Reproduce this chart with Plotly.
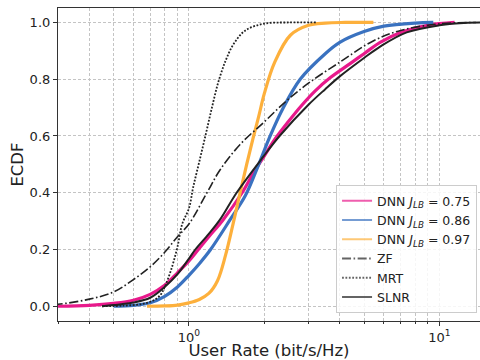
import numpy as np
import plotly.graph_objects as go

# ECDF samples of the user rate (bit/s/Hz) for each precoding scheme
dnn075_x = [0.3, 0.4, 0.5, 0.6, 0.7, 0.8, 0.9, 1.0, 1.09, 1.2, 1.37, 1.63, 1.81, 2.0, 2.2, 2.5, 2.8, 3.2, 3.66, 4.4, 5.0, 5.8, 7.0, 9.0, 11.5]
dnn075_y = [0.0, 0.003, 0.01, 0.021, 0.042, 0.074, 0.118, 0.16, 0.2, 0.245, 0.305, 0.40, 0.47, 0.53, 0.588, 0.652, 0.705, 0.76, 0.805, 0.855, 0.89, 0.93, 0.965, 0.99, 1.0]

dnn086_x = [0.5, 0.6, 0.7, 0.8, 0.9, 1.0, 1.1, 1.22, 1.46, 1.68, 1.87, 2.11, 2.35, 2.78, 3.5, 4.0, 5.0, 6.0, 8.0, 9.45]
dnn086_y = [0.0, 0.003, 0.012, 0.035, 0.068, 0.109, 0.15, 0.2, 0.305, 0.39, 0.485, 0.60, 0.69, 0.80, 0.89, 0.93, 0.968, 0.987, 0.998, 1.0]

dnn097_x = [0.68, 0.8, 0.9, 1.0, 1.1, 1.2, 1.3, 1.4, 1.5, 1.6, 1.7, 1.8, 1.9, 2.0, 2.2, 2.54, 3.0, 3.5, 4.2, 5.45]
dnn097_y = [0.0, 0.001, 0.004, 0.012, 0.024, 0.045, 0.09, 0.18, 0.29, 0.40, 0.50, 0.59, 0.67, 0.75, 0.86, 0.955, 0.99, 0.998, 1.0, 1.0]

zf_x = [0.25, 0.3, 0.4, 0.5, 0.6, 0.7, 0.8, 0.9, 1.0, 1.18, 1.33, 1.6, 2.0, 2.46, 3.0, 4.0, 5.44, 7.0, 10.0, 14.0]
zf_y = [0.004, 0.007, 0.025, 0.05, 0.094, 0.139, 0.19, 0.245, 0.29, 0.40, 0.48, 0.57, 0.65, 0.725, 0.786, 0.86, 0.935, 0.972, 0.995, 1.0]

mrt_x = [0.45, 0.55, 0.65, 0.72, 0.77, 0.8, 0.85, 0.9, 0.94, 1.0, 1.04, 1.1, 1.17, 1.235, 1.31, 1.4, 1.51, 1.68, 2.0, 2.5, 3.25]
mrt_y = [0.0, 0.002, 0.008, 0.02, 0.04, 0.068, 0.13, 0.21, 0.29, 0.345, 0.42, 0.51, 0.61, 0.70, 0.79, 0.865, 0.925, 0.972, 0.996, 1.0, 1.0]

slnr_x = [0.45, 0.5, 0.6, 0.7, 0.8, 0.9, 1.0, 1.06, 1.2, 1.33, 1.55, 1.98, 2.3, 3.0, 3.5, 4.0, 5.0, 5.8, 7.4, 10.0, 13.0, 16.0]
slnr_y = [0.0, 0.004, 0.013, 0.03, 0.068, 0.113, 0.168, 0.2, 0.255, 0.305, 0.40, 0.527, 0.60, 0.71, 0.765, 0.81, 0.875, 0.915, 0.965, 0.99, 0.999, 1.0]

series = [
    ("DNN <i>J</i><sub><i>LB</i></sub> = 0.75", dnn075_x, dnn075_y, "#e8198b", 3.2, "solid"),
    ("DNN <i>J</i><sub><i>LB</i></sub> = 0.86", dnn086_x, dnn086_y, "#3a72c0", 3.2, "solid"),
    ("DNN <i>J</i><sub><i>LB</i></sub> = 0.97", dnn097_x, dnn097_y, "#fdb03c", 3.2, "solid"),
    ("ZF", zf_x, zf_y, "#222222", 1.6, "9px,2.5px,1.6px,2.5px"),
    ("MRT", mrt_x, mrt_y, "#222222", 1.8, "1.8px,1.6px"),
    ("SLNR", slnr_x, slnr_y, "#222222", 2.0, "solid"),
]

fig = go.Figure()
for name, xs, ys, color, width, dash in series:
    fig.add_trace(go.Scatter(
        x=xs, y=ys, mode="lines", showlegend=False,
        line=dict(color=color, width=width, dash=dash, shape="spline", smoothing=1.0),
    ))
# legend handles: thinner, semi-transparent strokes
for name, xs, ys, color, width, dash in series:
    fig.add_trace(go.Scatter(
        x=[None], y=[None], mode="lines", name=name, opacity=0.7,
        line=dict(color=color, width=2, dash=dash),
    ))

font = "DejaVu Sans, Arial, sans-serif"
grid = dict(gridcolor="#c4c4c4", griddash="3px,2px", gridwidth=1)

fig.update_layout(
    width=480, height=360,
    margin=dict(l=58, r=0, t=8, b=39),
    paper_bgcolor="white", plot_bgcolor="white",
    font=dict(family=font, size=13, color="#222222"),
    xaxis=dict(
        type="log", range=[np.log10(0.3), 1.162],
        tickvals=[1, 10], ticktext=["10<sup>0</sup>", "10<sup>1</sup>"],
        ticks="outside", ticklen=4, tickcolor="#333333",
        showline=True, linecolor="#333333", linewidth=1.2, mirror=True,
        showgrid=True, **grid,
        minor=dict(tickvals=[0.3, 0.4, 0.5, 0.6, 0.7, 0.8, 0.9, 2, 3, 4, 5, 6, 7, 8, 9],
                   ticks="outside", ticklen=2, tickcolor="#333333",
                   showgrid=True, **grid),
        title=dict(text="User Rate (bit/s/Hz)", font=dict(size=16.5), standoff=4),
        zeroline=False,
    ),
    yaxis=dict(
        range=[-0.052, 1.051],
        tickvals=[0, 0.2, 0.4, 0.6, 0.8, 1.0], tickformat=".1f",
        ticks="outside", ticklen=4, tickcolor="#333333",
        showline=True, linecolor="#333333", linewidth=1.2,
        showgrid=True, **grid, zeroline=False,
        title=dict(text="ECDF", font=dict(size=16.5), standoff=1),
    ),
    legend=dict(
        x=0.993, y=0.025, xanchor="right", yanchor="bottom",
        bgcolor="rgba(255,255,255,0.85)", bordercolor="#cccccc", borderwidth=1,
        font=dict(size=12.5, color="#222222"), tracegroupgap=0,
    ),
)

fig.write_html("out.html")
